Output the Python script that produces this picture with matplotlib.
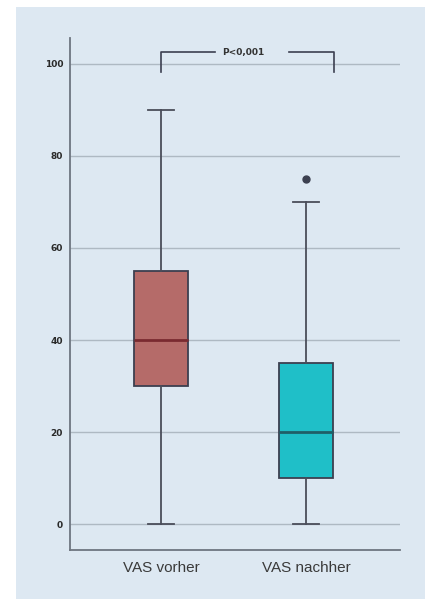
import matplotlib
matplotlib.use("Agg")
import matplotlib.pyplot as plt
from matplotlib.patches import Rectangle

categories = ["VAS vorher", "VAS nachher"]
whisker_low = [0, 0]
q1 = [30, 10]
median = [40, 20]
q3 = [55, 35]
whisker_high = [90, 70]
outliers = [[], [75]]
yticks = [0, 20, 40, 60, 80, 100]
p_text = "P<0,001"

box_colors = ["#b56b69", "#1fbfc8"]
median_colors = ["#7a2a30", "#1f5f68"]
bg = "#dde8f2"

fig = plt.figure(figsize=(4.25, 5.99), dpi=100)
fig.patch.set_facecolor("white")
fig.patches.append(Rectangle((16/425, 0), 1 - 16/425, 1 - 7/599,
                             transform=fig.transFigure, facecolor=bg,
                             edgecolor="none", zorder=-10))

ax = fig.add_axes([70/425, 1 - 550/599, 330/425, (550 - 38)/599])
ax.set_facecolor(bg)

stats = []
for i, name in enumerate(categories):
    stats.append(dict(label=name, whislo=whisker_low[i], q1=q1[i], med=median[i],
                      q3=q3[i], whishi=whisker_high[i], fliers=outliers[i]))

positions = [1, 2]
bp = ax.bxp(stats, positions=positions, widths=0.372, patch_artist=True,
            showfliers=True,
            boxprops=dict(edgecolor="#3c3f50", linewidth=1.3),
            whiskerprops=dict(color="#4a4d5a", linewidth=1.3),
            capprops=dict(color="#4a4d5a", linewidth=1.3),
            flierprops=dict(marker="o", markersize=5, markerfacecolor="#3c4050",
                            markeredgecolor="#3c4050"),
            capwidths=0.18)
for patch, c in zip(bp["boxes"], box_colors):
    patch.set_facecolor(c)
for med, c in zip(bp["medians"], median_colors):
    med.set_color(c)
    med.set_linewidth(2)

ax.set_xlim(0.372, 2.648)
ax.set_ylim(-5.65, 105.65)
ax.set_yticks(yticks)
ax.set_yticklabels([str(t) for t in yticks], fontsize=6.5, color="#2a2a2a",
                   fontweight="bold")
ax.tick_params(axis="y", length=0, pad=5)
ax.tick_params(axis="x", length=0, pad=8)
ax.set_xticks(positions)
ax.set_xticklabels(categories, family="Liberation Sans", fontsize=11,
                   color="#3a3a3a")

ax.yaxis.grid(True, color="#aeb9c3", linewidth=1)
ax.set_axisbelow(True)
for s in ["top", "right"]:
    ax.spines[s].set_visible(False)
for s in ["left", "bottom"]:
    ax.spines[s].set_color("#6e7580")
    ax.spines[s].set_linewidth(1.3)

# significance bracket
yb, yd = 102.6, 98.3
lc = "#3c3f50"
ax.plot([1, 1, 1.372], [yd, yb, yb], color=lc, lw=1.2, clip_on=False)
ax.plot([1.883, 2.19, 2.19], [yb, yb, yd], color=lc, lw=1.2, clip_on=False)
ax.text(1.566, yb, p_text, ha="center", va="center", fontsize=6.5,
        fontweight="bold", color="#333333")

fig.savefig("out.png", dpi=100)
